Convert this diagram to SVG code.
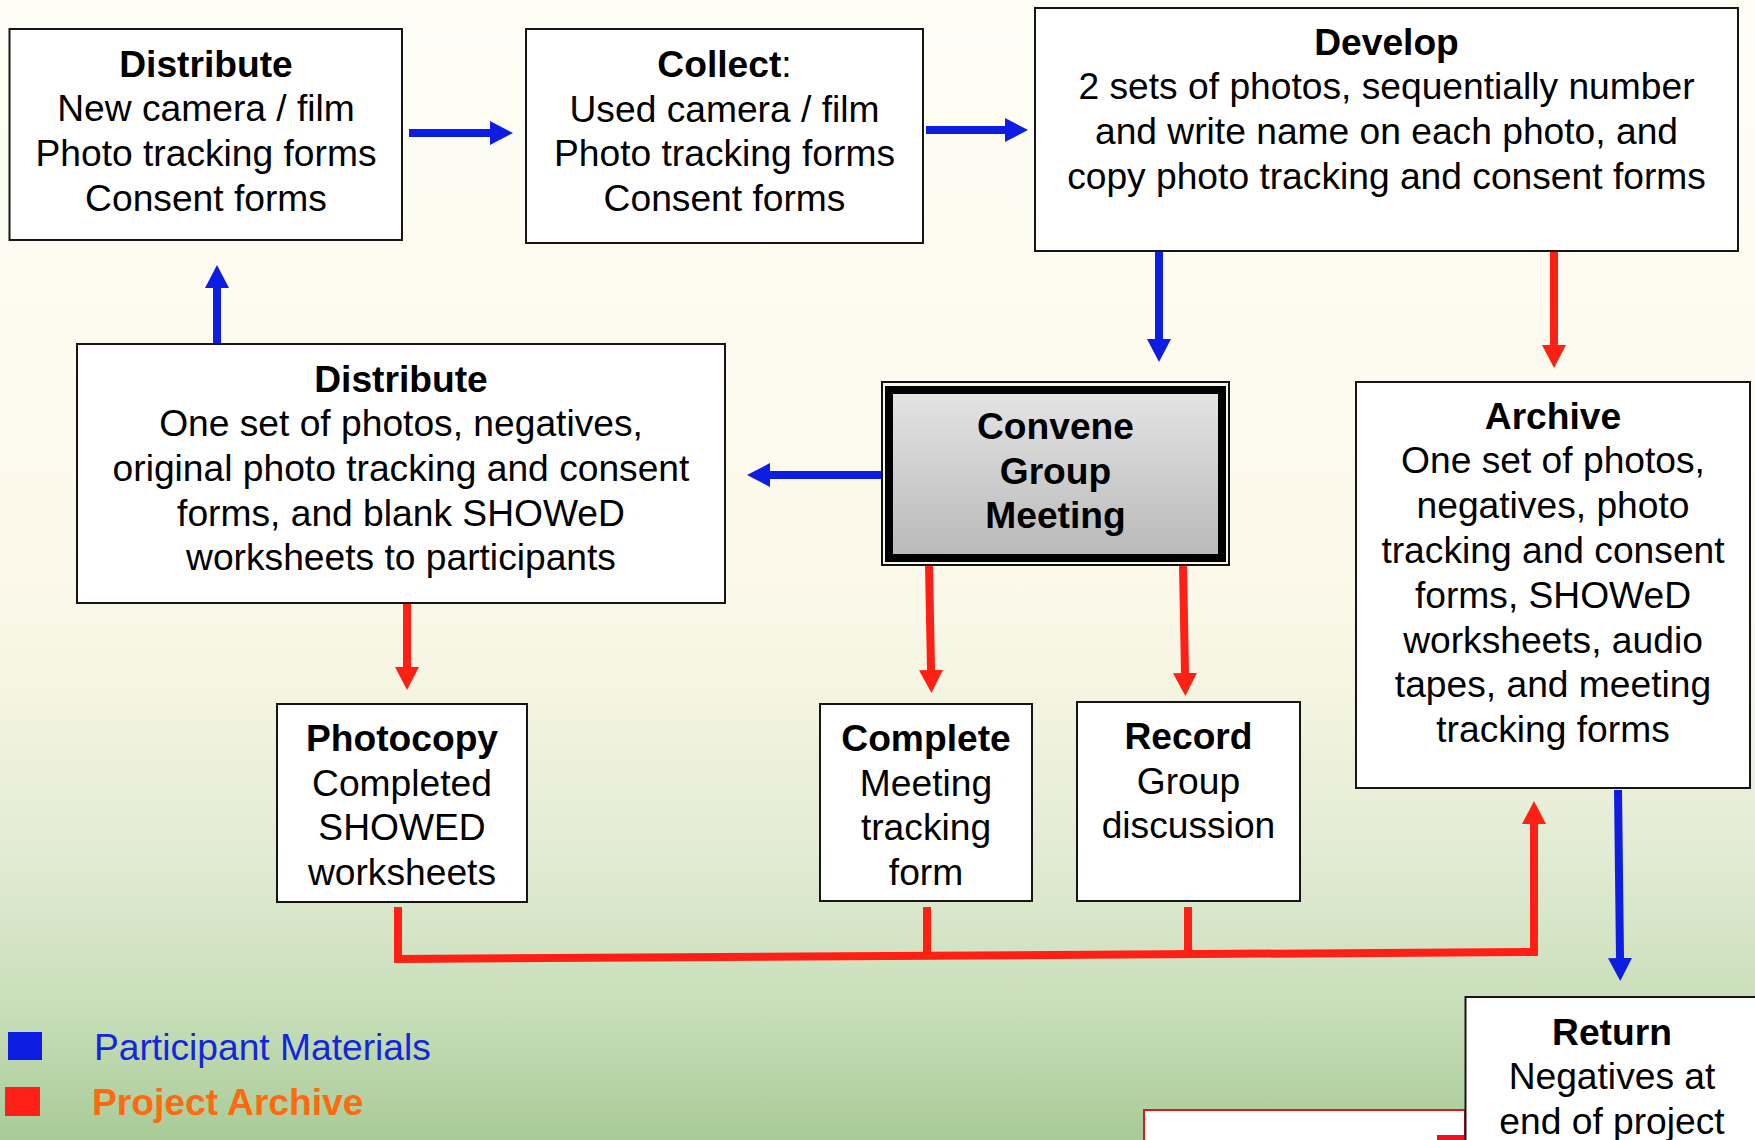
<svg xmlns="http://www.w3.org/2000/svg" width="1755" height="1140" viewBox="0 0 1755 1140">
  <defs>
    <linearGradient id="bg" x1="0" y1="0" x2="0" y2="1">
      <stop offset="0" stop-color="#fefef6"/>
      <stop offset="0.5" stop-color="#fcf9ea"/>
      <stop offset="0.6" stop-color="#f5f5e2"/>
      <stop offset="0.75" stop-color="#e2ebd3"/>
      <stop offset="0.88" stop-color="#c9dfba"/>
      <stop offset="1" stop-color="#a9cb98"/>
    </linearGradient>
    <linearGradient id="grey" x1="0" y1="0" x2="0" y2="1">
      <stop offset="0" stop-color="#e4e4e4"/>
      <stop offset="1" stop-color="#b9b9b9"/>
    </linearGradient>
    <marker id="headBlue" markerUnits="userSpaceOnUse" markerWidth="24" markerHeight="24" refX="0" refY="12" orient="auto">
      <path d="M0,0 L23,12 L0,24 Z" fill="#0d1ee2"/>
    </marker>
    <marker id="headRed" markerUnits="userSpaceOnUse" markerWidth="24" markerHeight="24" refX="0" refY="12" orient="auto">
      <path d="M0,0 L23,12 L0,24 Z" fill="#fe2014"/>
    </marker>
  </defs>
  <style>
    .box { fill: #ffffff; stroke: #161616; stroke-width: 2; }
    text { font-family: "Liberation Sans", Arial, sans-serif; font-size: 37.2px; fill: #000; text-anchor: middle; }
    .b { font-weight: bold; }
    .blue { fill: none; stroke: #0d1ee2; stroke-width: 8; }
    .red { fill: none; stroke: #fe2014; stroke-width: 8; }
    .redA { marker-end: url(#headRed); }
    .blueA { marker-end: url(#headBlue); }
  </style>

  <rect x="0" y="0" width="1755" height="1140" fill="url(#bg)"/>

  <!-- connectors -->
  <g id="connectors">
    <line class="blue blueA" x1="409" y1="133" x2="490" y2="133"/>
    <line class="blue blueA" x1="926" y1="130" x2="1005" y2="130"/>
    <line class="blue blueA" x1="217" y1="345" x2="217" y2="288"/>
    <line class="blue blueA" x1="1159" y1="252" x2="1159" y2="339"/>
    <line class="red redA" x1="1554" y1="252" x2="1554" y2="345"/>
    <line class="blue blueA" x1="883" y1="475" x2="770" y2="475"/>
    <line class="red redA" x1="407" y1="604" x2="407" y2="667"/>
    <line class="red redA" x1="929" y1="565" x2="931" y2="670"/>
    <line class="red redA" x1="1183" y1="565" x2="1185" y2="673"/>
    <line class="blue blueA" x1="1618" y1="790" x2="1620" y2="958"/>
    <line class="red" x1="927" y1="907" x2="927" y2="956"/>
    <line class="red" x1="1188" y1="907" x2="1188" y2="955"/>
    <polyline class="red redA" stroke="#ff0000" points="398,907 398,959 1534,952 1534,824"/>
  </g>

  <g id="distribute-kit">
    <rect class="box" x="9.5" y="29" width="392.5" height="211"/>
    <text x="206" y="76.5" class="b">Distribute</text>
    <text x="206" y="121.2">New camera / film</text>
    <text x="206" y="165.9">Photo tracking forms</text>
    <text x="206" y="210.6">Consent forms</text>
  </g>

  <g id="collect">
    <rect class="box" x="526" y="29" width="397" height="214"/>
    <text x="724.5" y="77"><tspan class="b">Collect</tspan>:</text>
    <text x="724.5" y="121.7">Used camera / film</text>
    <text x="724.5" y="166.4">Photo tracking forms</text>
    <text x="724.5" y="211.1">Consent forms</text>
  </g>

  <g id="develop">
    <rect class="box" x="1035" y="8" width="703" height="243"/>
    <text x="1386.5" y="54.5" class="b">Develop</text>
    <text x="1386.5" y="99.2">2 sets of photos, sequentially number</text>
    <text x="1386.5" y="143.9">and write name on each photo, and</text>
    <text x="1386.5" y="188.6">copy photo tracking and consent forms</text>
  </g>

  <g id="distribute-photos">
    <rect class="box" x="77" y="344" width="648" height="259"/>
    <text x="401" y="391.5" class="b">Distribute</text>
    <text x="401" y="436.2">One set of photos, negatives,</text>
    <text x="401" y="480.9">original photo tracking and consent</text>
    <text x="401" y="525.6">forms, and blank SHOWeD</text>
    <text x="401" y="570.3">worksheets to participants</text>
  </g>

  <g id="convene">
    <rect x="882" y="382" width="347" height="183" fill="#f8f6e8" stroke="#111" stroke-width="2"/>
    <rect x="889" y="390" width="333" height="168" fill="url(#grey)" stroke="#000" stroke-width="8"/>
    <text x="1055.5" y="439" class="b">Convene</text>
    <text x="1055.5" y="483.7" class="b">Group</text>
    <text x="1055.5" y="528.4" class="b">Meeting</text>
  </g>

  <g id="archive">
    <rect class="box" x="1356" y="382" width="394" height="406"/>
    <text x="1553" y="428.5" class="b">Archive</text>
    <text x="1553" y="473.3">One set of photos,</text>
    <text x="1553" y="518.1">negatives, photo</text>
    <text x="1553" y="562.9">tracking and consent</text>
    <text x="1553" y="607.7">forms, SHOWeD</text>
    <text x="1553" y="652.5">worksheets, audio</text>
    <text x="1553" y="697.3">tapes, and meeting</text>
    <text x="1553" y="742.1">tracking forms</text>
  </g>

  <g id="photocopy">
    <rect class="box" x="277" y="704" width="250" height="198"/>
    <text x="402" y="751" class="b">Photocopy</text>
    <text x="402" y="795.6">Completed</text>
    <text x="402" y="840.2">SHOWED</text>
    <text x="402" y="884.8">worksheets</text>
  </g>

  <g id="complete">
    <rect class="box" x="820" y="704" width="212" height="197"/>
    <text x="926" y="751" class="b">Complete</text>
    <text x="926" y="795.6">Meeting</text>
    <text x="926" y="840.2">tracking</text>
    <text x="926" y="884.8">form</text>
  </g>

  <g id="record">
    <rect class="box" x="1077" y="702" width="223" height="199"/>
    <text x="1188.5" y="749" class="b">Record</text>
    <text x="1188.5" y="793.6">Group</text>
    <text x="1188.5" y="838.2">discussion</text>
  </g>

  <g id="lower-box">
    <rect x="1144" y="1110" width="321" height="40" fill="#ffffff" stroke="#e01818" stroke-width="2"/>
    <rect x="1437" y="1135" width="28" height="6" fill="#ee1020"/>
  </g>

  <g id="return">
    <rect class="box" x="1465.5" y="997" width="292" height="150"/>
    <text x="1612" y="1044.5" class="b">Return</text>
    <text x="1612" y="1089.2">Negatives at</text>
    <text x="1612" y="1133.9">end of project</text>
  </g>

  <g id="legend">
    <rect x="8" y="1032" width="34" height="28" fill="#0d1ee2"/>
    <text x="94" y="1060" style="text-anchor:start; fill:#1226e0">Participant Materials</text>
    <rect x="5" y="1087" width="35" height="29" fill="#ff2018"/>
    <text x="92" y="1115" class="b" style="text-anchor:start; fill:#ff6a0e">Project Archive</text>
  </g>
</svg>
